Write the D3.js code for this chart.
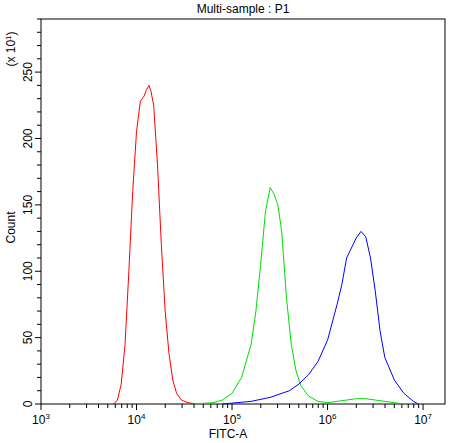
<!DOCTYPE html><html><head><meta charset="utf-8"><script src="https://d3js.org/d3.v7.min.js"></script>
<style>body{margin:0;background:#fff}text{font-family:"Liberation Sans",Arial,sans-serif;font-size:12px;fill:#000}</style></head><body><svg id="c" width="452" height="443"></svg><script>
const redX=[3.76,3.80,3.84,3.88,3.92,3.96,4.0,4.04,4.08,4.10,4.13,4.15,4.18,4.22,4.26,4.30,4.34,4.38,4.42,4.47,4.54,4.62];
const redY=[0,3,15,45,100,160,205,228,232,236,240,236,225,180,120,70,38,18,8,3,1,0];
const greenX=[4.6,4.8,4.9,5.0,5.1,5.2,5.25,5.3,5.35,5.40,5.44,5.48,5.52,5.57,5.62,5.67,5.72,5.8,5.9,6.0,6.1,6.2,6.3,6.4,6.5,6.6,6.7,6.8];
const greenY=[0,1,3,8,20,45,70,105,145,163,158,150,130,80,45,25,14,6,2,1,2,3,4,4,3,2,1,0];
const blueX=[4.9,5.2,5.4,5.6,5.7,5.8,5.9,6.0,6.1,6.15,6.2,6.3,6.35,6.4,6.45,6.5,6.55,6.6,6.7,6.8,6.9,6.95];
const blueY=[0,2,5,10,15,22,32,48,75,90,110,125,130,126,110,85,55,35,18,8,2,0];
const yTicks=[0,50,100,150,200,250];
const xDecades=[3,4,5,6,7];
const svg=d3.select("#c");
const L=41,T=19,R=445,B=404;
const x=d3.scaleLinear().domain([3,7.23]).range([L,R]);
const y=d3.scaleLinear().domain([0,290]).range([B,T]);
svg.append("rect").attr("x",L).attr("y",T).attr("width",R-L).attr("height",B-T).attr("fill","none").attr("stroke","#000");
d3.range(0,291,10).forEach(v=>{const big=v%50==0;svg.append("line").attr("x1",L-(big?6:4)).attr("x2",L).attr("y1",y(v)).attr("y2",y(v)).attr("stroke","#000");});
yTicks.forEach(v=>svg.append("text").attr("transform",`translate(${L-9},${y(v)}) rotate(-90)`).attr("text-anchor","middle").text(v));
svg.append("text").attr("transform",`translate(15,${T+30}) rotate(-90)`).attr("text-anchor","middle").html('(x 10<tspan dy="-4" font-size="8">1</tspan><tspan dy="4">)</tspan>');
svg.append("text").attr("transform",`translate(15,${(T+B)/2+16}) rotate(-90)`).attr("text-anchor","middle").text("Count");
xDecades.forEach(d=>{svg.append("line").attr("x1",x(d)).attr("x2",x(d)).attr("y1",B).attr("y2",B+6).attr("stroke","#000");
 for(let k=2;k<10;k++){const v=d+Math.log10(k);if(v<7.23)svg.append("line").attr("x1",x(v)).attr("x2",x(v)).attr("y1",B).attr("y2",B+4).attr("stroke","#000");}
 const t=svg.append("text").attr("x",x(d)).attr("y",B+20).attr("text-anchor","middle");t.append("tspan").text("10");t.append("tspan").attr("dy",-5).attr("font-size","8px").text(d);});
svg.append("text").attr("x",(L+R)/2-15).attr("y",B+34).attr("text-anchor","middle").text("FITC-A");
svg.append("text").attr("x",(L+R)/2).attr("y",13).attr("text-anchor","middle").text("Multi-sample : P1");
const line=d3.line().x(d=>x(d[0])).y(d=>y(d[1]));
[[redX,redY,"#ff0000"],[greenX,greenY,"#00dd00"],[blueX,blueY,"#0000ff"]].forEach(([xs,ys,c])=>svg.append("path").attr("d",line(xs.map((v,i)=>[v,ys[i]]))).attr("fill","none").attr("stroke",c).attr("stroke-width",1));
</script></body></html>
